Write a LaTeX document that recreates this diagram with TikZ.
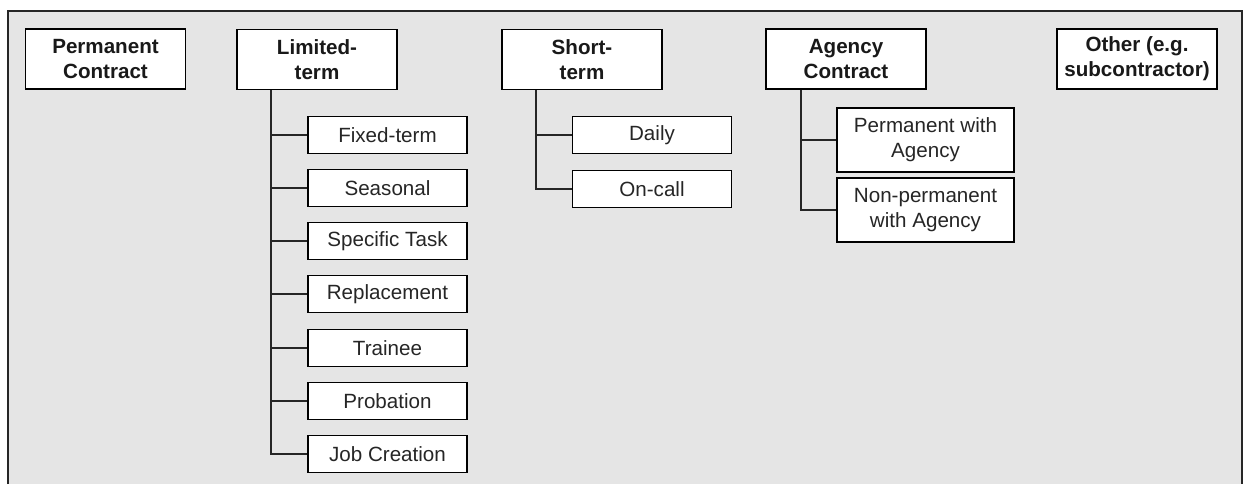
\documentclass[tikz,border=0pt]{standalone}
\usepackage{fontspec}
\setmainfont{Liberation Sans}

\begin{document}
\begin{tikzpicture}[x=0.5pt,y=-0.5pt,
    topbox/.style={draw, line width=0.85pt, fill=white, minimum width=80pt, minimum height=30pt,
        inner sep=0pt, align=center, font=\fontsize{10.3}{12.5}\selectfont\bfseries, text=black!90},
    subbox/.style={draw, line width=0.85pt, fill=white, minimum width=79.5pt, minimum height=18.5pt,
        inner sep=0pt, align=center, font=\fontsize{10.3}{12.5}\selectfont, text=black!85},
    link/.style={line width=0.85pt, black!85}]
            % Frame
            \useasboundingbox (0,0) rectangle (1247,484);
            \fill[gray!20] (8,11) rectangle (1242,484);
            \draw[line width=0.8pt, black!85] (8,484) -- (8,11) -- (1242,11) -- (1242,484);

            % Top row
            \node[topbox] (perm) at (105.5,59) {Permanent\\Contract};
            \node[topbox] (lim) at (317,59.5) {Limited-\\term};
            \node[topbox] (short) at (582,59.5) {Short-\\term};
            \node[topbox] (agency) at (846,59) {Agency\\Contract};
            \node[topbox] (other) at (1137,59) {Other (e.g.\\subcontractor)};

            % Limited-term types
            \node[subbox] (fixed) at (387.5,135) {Fixed-term};
            \node[subbox] (seasonal) at (387.5,188) {Seasonal};
            \node[subbox] (task) at (387.5,241) {Specific Task};
            \node[subbox] (replace) at (387.5,294) {Replacement};
            \node[subbox] (trainee) at (387.5,348) {Trainee};
            \node[subbox] (probation) at (387.5,401) {Probation};
            \node[subbox] (jobcreation) at (387.5,454) {Job Creation};

            % Short-term types
            \node[subbox] (daily) at (652,135) {Daily};
            \node[subbox] (oncall) at (652,189) {On-call};

            % Agency types
            \node[subbox, minimum width=88.5pt, minimum height=32pt] (agperm) at (925.5,140) {Permanent with\\Agency};
            \node[subbox, minimum width=88.5pt, minimum height=32pt] (agnonperm) at (925.5,210) {Non-permanent\\with Agency};

            % Trunks
            \coordinate (limTrunk) at ([xshift=17.5pt]lim.south west);
            \coordinate (shortTrunk) at ([xshift=17.5pt]short.south west);
            \coordinate (agencyTrunk) at ([xshift=18pt]agency.south west);

            \draw[link] (limTrunk) |- (jobcreation.west);
            \foreach \n in {fixed,seasonal,task,replace,trainee,probation}
                \draw[link] (limTrunk |- \n.west) -- (\n.west);

            \draw[link] (shortTrunk) |- (oncall.west);
            \draw[link] (shortTrunk |- daily.west) -- (daily.west);

            \draw[link] (agencyTrunk) |- (agnonperm.west);
            \draw[link] (agencyTrunk |- agperm.west) -- (agperm.west);
        \end{tikzpicture}
\end{document}
